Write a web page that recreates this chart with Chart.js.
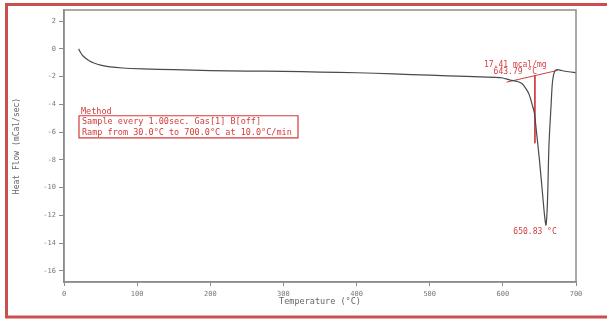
<!DOCTYPE html>
<html>
<head>
<meta charset="utf-8">
<script src="https://cdn.jsdelivr.net/npm/chart.js@4"></script>
<style>
  body { margin: 0; background: #fff; }
  #wrap { width: 607px; height: 320px; }
</style>
</head>
<body>
<div id="wrap"><canvas id="myChart" width="607" height="320"></canvas></div>
<script>
// DSC curve
var temps = [20, 22, 25, 30, 35, 40, 50, 63, 80, 108, 150, 200, 250, 300, 350, 400, 450, 500, 550, 590, 600, 610, 620, 626, 632, 636, 640, 643, 646, 650, 654, 657, 659, 661, 663, 666, 668, 671, 675, 680, 690, 700];
var heatFlow = [0, -0.2, -0.45, -0.7, -0.88, -1.0, -1.17, -1.3, -1.38, -1.44, -1.5, -1.57, -1.6, -1.62, -1.67, -1.72, -1.8, -1.9, -1.98, -2.05, -2.1, -2.25, -2.35, -2.5, -2.9, -3.3, -4.0, -4.6, -6.0, -8.0, -10.3, -12.0, -12.7, -11.0, -7.0, -4.0, -2.3, -1.6, -1.5, -1.56, -1.65, -1.72];

// red construction lines
var baseTemps = [605, 675];
var baseFlow = [-2.4, -1.55];
var onsetTemps = [643.79, 643.79];
var onsetFlow = [-1.93, -6.8];

var xTicks = [0, 100, 200, 300, 400, 500, 600, 700];
var yTicks = [-16, -14, -12, -10, -8, -6, -4, -2, 0, 2];

var methodLines = ["Sample every 1.00sec. Gas[1] B[off]", "Ramp from 30.0\u00B0C to 700.0\u00B0C at 10.0\u00B0C/min"];

function pts(xs, ys) {
    var out = [];
    for (var i = 0; i < xs.length; i++) {
        out.push({x: xs[i], y: ys[i]});
    }
    return out;
}

var MONO = '"DejaVu Sans Mono", monospace';
var RED = '#d23c3c';

var decor = {
    id: 'decor',
    beforeDraw: function(chart) {
        var ctx = chart.ctx;
        ctx.save();
        ctx.fillStyle = '#fff';
        ctx.fillRect(0, 0, chart.width, chart.height);
        ctx.strokeStyle = '#c9504f';
        ctx.lineWidth = 3;
        ctx.strokeRect(6.5, 4.5, 610, 312.5);
        ctx.restore();
    },
    afterDatasetsDraw: function(chart) {
        var ctx = chart.ctx;
        var a = chart.chartArea;
        var xs = chart.scales.x, ys = chart.scales.y;
        ctx.save();
        // frame
        ctx.strokeStyle = '#8c8c8c';
        ctx.lineWidth = 1.5;
        ctx.strokeRect(a.left, a.top, a.right - a.left, a.bottom - a.top);

        // method box
        ctx.fillStyle = RED;
        ctx.font = '8.5px ' + MONO;
        ctx.textBaseline = 'middle';
        var bx = xs.getPixelForValue(20.5);
        ctx.fillText('Method', bx + 2, ys.getPixelForValue(-4.55));
        ctx.fillText(methodLines[0], bx + 3, ys.getPixelForValue(-5.27));
        ctx.fillText(methodLines[1], bx + 3, ys.getPixelForValue(-6.03));
        ctx.beginPath();
        ctx.strokeStyle = RED;
        ctx.lineWidth = 1.2;
        var top = ys.getPixelForValue(-4.82);
        var bot = ys.getPixelForValue(-6.42);
        ctx.rect(bx, top, 219, bot - top);
        ctx.stroke();

        // peak labels
        ctx.font = '8px ' + MONO;
        ctx.textAlign = 'center';
        ctx.fillText('17.41 mcal/mg', xs.getPixelForValue(617), ys.getPixelForValue(-1.14));
        ctx.fillText('643.79 \u00B0C', xs.getPixelForValue(617), ys.getPixelForValue(-1.66));
        ctx.fillText('650.83 \u00B0C', xs.getPixelForValue(644), ys.getPixelForValue(-13.2));
        ctx.restore();
    }
};

var ctx = document.getElementById('myChart');
var myChart = new Chart(ctx, {
    type: 'scatter',
    data: {
        datasets: [{
            data: pts(temps, heatFlow),
            showLine: true,
            borderColor: '#4a4a4a',
            borderWidth: 1.2,
            pointRadius: 0,
            tension: 0.3
        }, {
            data: pts(baseTemps, baseFlow),
            showLine: true,
            borderColor: RED,
            borderWidth: 1,
            pointRadius: 0
        }, {
            data: pts(onsetTemps, onsetFlow),
            showLine: true,
            borderColor: RED,
            borderWidth: 1,
            pointRadius: 0
        }]
    },
    options: {
        responsive: false,
        animation: false,
        layout: { padding: { top: 10, right: 31, left: 0, bottom: 0 } },
        plugins: { legend: { display: false }, tooltip: { enabled: false } },
        scales: {
            x: {
                type: 'linear',
                min: 0,
                max: 700,
                afterBuildTicks: function(scale) {
                    scale.ticks = xTicks.map(function(v) { return {value: v}; });
                },
                afterFit: function(scale) { scale.height = 38; },
                grid: { drawOnChartArea: false, drawTicks: true, tickLength: 4, tickColor: '#8c8c8c', tickWidth: 1 },
                border: { color: '#8c8c8c', width: 1.5 },
                ticks: { font: { family: MONO, size: 7 }, color: '#777', padding: 4, maxRotation: 0 },
                title: { display: true, text: 'Temperature (\u00B0C)', font: { family: MONO, size: 8.5 }, color: '#666', padding: { top: 0, bottom: 13 } }
            },
            y: {
                min: -16.8,
                max: 2.8,
                afterBuildTicks: function(scale) {
                    scale.ticks = yTicks.map(function(v) { return {value: v}; });
                },
                afterFit: function(scale) { scale.width = 64; },
                grid: { drawOnChartArea: false, drawTicks: true, tickLength: 5, tickColor: '#8c8c8c', tickWidth: 1 },
                border: { color: '#8c8c8c', width: 1.5 },
                ticks: { font: { family: MONO, size: 7 }, color: '#777', padding: 3 },
                title: { display: true, text: 'Heat Flow (mCal/sec)', font: { family: MONO, size: 8 }, color: '#666', padding: { top: 12, bottom: 0 } }
            }
        }
    },
    plugins: [decor]
});
</script>
</body>
</html>
